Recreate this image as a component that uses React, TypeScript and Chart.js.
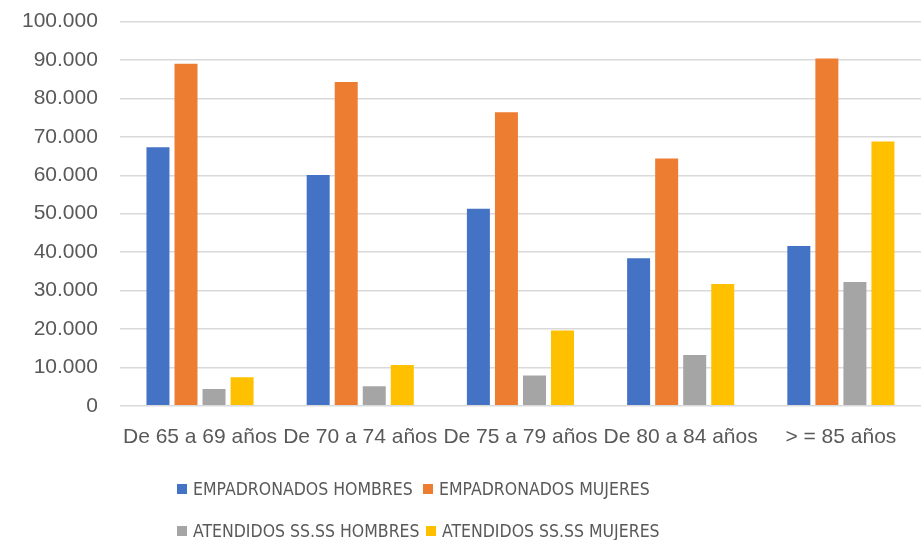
import React, { useEffect, useRef } from "react";
import { Chart, registerables } from "chart.js";

Chart.register(...registerables);

const categories = ["De 65 a 69 años", "De 70 a 74 años", "De 75 a 79 años", "De 80 a 84 años", "> = 85 años"];
const seriesNames = ["EMPADRONADOS HOMBRES", "EMPADRONADOS MUJERES", "ATENDIDOS SS.SS HOMBRES", "ATENDIDOS SS.SS MUJERES"];
const seriesColors = ["#4472C4", "#ED7D31", "#A5A5A5", "#FFC000"];
const empadronadosHombres = [67300, 60100, 51300, 38400, 41600];
const empadronadosMujeres = [89000, 84300, 76400, 64400, 90400];
const atendidosHombres = [4400, 5100, 7900, 13200, 32200];
const atendidosMujeres = [7400, 10600, 19600, 31700, 68800];
const yMax = 100000;
const yStep = 10000;

const FONT = "'Liberation Sans', Arial, sans-serif";
const LEGEND_FONT = "'Liberation Sans Narrow', 'Arial Narrow', 'DejaVu Sans Condensed', sans-serif";
const TEXT = "#595959";

function fmt(v: number): string {
  const s = Math.round(v).toString();
  return s.replace(/\B(?=(\d{3})+(?!\d))/g, ".");
}

export default function App() {
  const ref = useRef<HTMLCanvasElement | null>(null);
  useEffect(() => {
    if (!ref.current) return;
    const all = [empadronadosHombres, empadronadosMujeres, atendidosHombres, atendidosMujeres];
    const chart = new Chart(ref.current, {
      type: "bar",
      data: {
        labels: categories,
        datasets: all.map((d, i) => ({
          label: seriesNames[i],
          data: d,
          backgroundColor: seriesColors[i],
          borderWidth: 0,
          categoryPercentage: 0.7,
          barPercentage: 0.82,
        })),
      },
      options: {
        animation: false,
        responsive: false,
        maintainAspectRatio: false,
        layout: { padding: { left: 0, right: 1, top: 0, bottom: 71 } },
        plugins: { legend: { display: false }, tooltip: { enabled: false } },
        scales: {
          x: {
            grid: { display: false, drawTicks: false },
            border: { display: false },
            ticks: { color: TEXT, font: { family: FONT, size: 21 }, padding: 19, maxRotation: 0, autoSkip: false },
          },
          y: {
            min: 0,
            max: yMax,
            ticks: { stepSize: yStep, color: TEXT, font: { family: FONT, size: 21 }, padding: 22, callback: (v: any) => fmt(Number(v)) },
            grid: { color: "#d9d9d9", lineWidth: 1.5, drawTicks: false },
            border: { display: false },
          },
        },
      },
    });
    return () => chart.destroy();
  }, []);

  const legendItem = (i: number, ml: number) => (
    <div key={i} style={{ display: "flex", alignItems: "center", whiteSpace: "nowrap", marginLeft: ml }}>
      <span style={{ display: "inline-block", flexShrink: 0, width: 10, height: 10, background: seriesColors[i], marginRight: 6 }} />
      <span>{seriesNames[i]}</span>
    </div>
  );

  return (
    <div style={{ position: "absolute", left: 0, top: 0, width: 922, height: 540, background: "#fff", fontFamily: FONT, color: TEXT, overflow: "hidden" }}>
      <canvas ref={ref} width={922} height={553} style={{ position: "absolute", left: 0, top: -13 }} />
      <div style={{ position: "absolute", left: 177, top: 478, display: "grid", gridTemplateColumns: "246px auto", rowGap: 20, fontSize: 17.5, lineHeight: "22px", fontFamily: LEGEND_FONT }}>
        {legendItem(0, 0)}
        {legendItem(1, 0)}
        {legendItem(2, 0)}
        {legendItem(3, 3)}
      </div>
    </div>
  );
}
